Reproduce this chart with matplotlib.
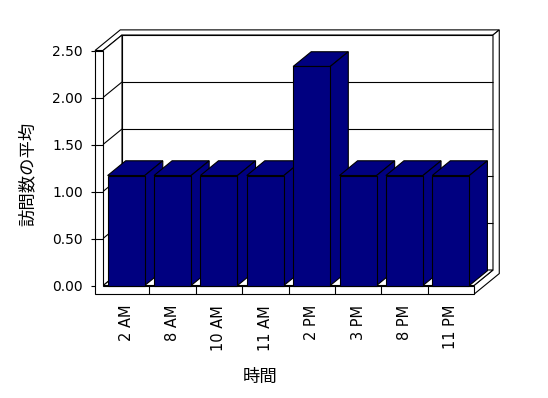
#
# Average visits per hour, drawn as an Excel-style 3D column chart.
#

import matplotlib.pyplot as plt
from matplotlib.patches import Polygon

plt.rcParams['font.family'] = ['DejaVu Sans', 'Noto Sans CJK JP']

hours = ['2 AM', '8 AM', '10 AM', '11 AM', '2 PM', '3 PM', '8 PM', '11 PM']
avg_visits = [1.17, 1.17, 1.17, 1.17, 2.33, 1.17, 1.17, 1.17]
y_ticks = [0.0, 0.5, 1.0, 1.5, 2.0, 2.5]
y_labels = ['0.00', '0.50', '1.00', '1.50', '2.00', '2.50']

navy = '#000080'
lw = 0.8

fig = plt.figure(figsize=(5.48, 3.98), dpi=100)
ax = fig.add_axes([103 / 548, 112.5 / 398, 371 / 548, 235 / 398])
ax.set_xlim(-0.5, len(hours) - 0.5)
ax.set_ylim(0, 2.5)

# pixel sizes in data units, used for the depth offsets
px_x = len(hours) / 371
px_y = 2.5 / 235
DX = 19 * px_x
DY = 15.5 * px_y
TL = 8 * px_x      # left wall thickness
TH = 8.7 * px_y    # floor thickness
ZB = 1.33          # back wall outer depth


def P(x, y, z):
    return (x + z * DX, y + z * DY)


def face(pts, zo=1, fc='white'):
    ax.add_patch(Polygon([P(*p) for p in pts], closed=True, fc=fc, ec='black',
                         lw=lw, clip_on=False, zorder=zo))


def line(p1, p2, zo=1.5):
    a, b = P(*p1), P(*p2)
    ax.plot([a[0], b[0]], [a[1], b[1]], color='black', lw=lw,
            clip_on=False, zorder=zo, solid_capstyle='butt')


x0 = -0.5 - TL
xl = -0.5
xr = len(hours) - 0.5
top = 2.5
bot = -TH

# walls and floor
face([(xl, 0, 1), (xr, 0, 1), (xr, top, 1), (xl, top, 1)])
face([(x0, top, 0), (xl, top, 0), (xl, top, 1), (xr, top, 1), (xr, top, ZB), (x0, top, ZB)])
face([(xr, bot, 0), (xr, 0, 0), (xr, 0, 1), (xr, top, 1), (xr, top, ZB), (xr, bot, ZB)])
face([(xl, 0, 0), (xr, 0, 0), (xr, 0, 1), (xl, 0, 1)])
face([(xl, 0, 0), (xl, 0, 1), (xl, top, 1), (xl, top, 0)])
face([(x0, bot, 0), (xr, bot, 0), (xr, 0, 0), (xl, 0, 0), (xl, top, 0), (x0, top, 0)])

for v in y_ticks:
    if 0 < v < top:
        line((xl, v, 1), (xr, v, 1))
        line((xl, v, 0), (xl, v, 1))
        line((x0, v, 0), (xl, v, 0))
    line((x0 - 4 * px_x, v, 0), (x0, v, 0))

for k in range(1, len(hours)):
    line((k - 0.5, bot, 0), (k - 0.5, 0, 0))

# columns: front face from ax.bar, top and side faces from the same values
width = 0.8
ZD = 0.95
bars = ax.bar(range(len(hours)), avg_visits, width, color=navy, edgecolor='black',
              linewidth=lw, clip_on=False)
for i, (b, v) in enumerate(zip(bars, avg_visits)):
    zo = 3 + i * 0.1
    b.set_zorder(zo + 0.05)
    xa, xb = i - width / 2, i + width / 2
    face([(xa, v, 0), (xb, v, 0), (xb, v, ZD), (xa, v, ZD)], zo, navy)
    face([(xb, 0, 0), (xb, v, 0), (xb, v, ZD), (xb, 0, ZD)], zo, navy)

ax.set_xticks(range(len(hours)), hours, rotation=90, fontsize=10.5)
ax.set_yticks(y_ticks, y_labels, fontsize=10)
ax.tick_params(axis='x', length=0, pad=14)
ax.tick_params(axis='y', length=0, pad=14.5)
ax.patch.set_visible(False)
for s in ax.spines.values():
    s.set_visible(False)

fig.text(27.5 / 548, 1 - 174 / 398, '訪問数の平均', rotation=90, ha='center', va='center', fontsize=12.5)
fig.text(260 / 548, 1 - 377 / 398, '時間', ha='center', va='center', fontsize=12.5)

fig.savefig('out.png', dpi=100, facecolor='white')
